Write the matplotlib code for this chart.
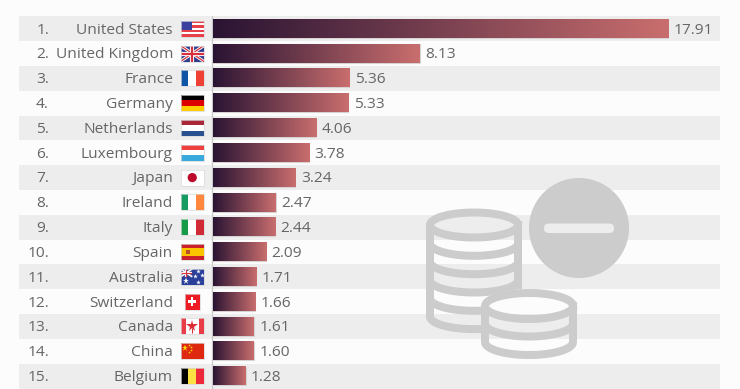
import numpy as np
import matplotlib
matplotlib.use("Agg")
import matplotlib.pyplot as plt
from matplotlib.colors import LinearSegmentedColormap
from matplotlib.patches import Rectangle, Circle, FancyBboxPatch
from matplotlib.path import Path

countries = ["United States", "United Kingdom", "France", "Germany", "Netherlands",
             "Luxembourg", "Japan", "Ireland", "Italy", "Spain", "Australia",
             "Switzerland", "Canada", "China", "Belgium"]
values = [17.91, 8.13, 5.36, 5.33, 4.06, 3.78, 3.24, 2.47, 2.44, 2.09, 1.71, 1.66, 1.61, 1.60, 1.28]
value_labels = ["17.91", "8.13", "5.36", "5.33", "4.06", "3.78", "3.24", "2.47", "2.44",
                "2.09", "1.71", "1.66", "1.61", "1.60", "1.28"]
ranks = [f"{i}." for i in range(1, 16)]

W, H = 740, 389
BG = "#fcfcfc"
STRIPE = "#ededed"
TEXT = "#666666"
ICON = "#cccccc"
PX_PER_UNIT = 25.42
ROW_TOP, ROW_BOTTOM = 16.3, 388.5
LEFT, RIGHT, ZERO = 19, 720, 213
FS = 11.15
TEXT_DY = 0.055

plt.rcParams["font.family"] = ["Open Sans", "DejaVu Sans"]
fig = plt.figure(figsize=(W / 100, H / 100), dpi=100, facecolor=BG)

ax = fig.add_axes([LEFT / W, 1 - ROW_BOTTOM / H, (RIGHT - LEFT) / W, (ROW_BOTTOM - ROW_TOP) / H])
ax.set_facecolor("none")
ax.axis("off")
xmin = (LEFT - ZERO) / PX_PER_UNIT
xmax = (RIGHT - ZERO) / PX_PER_UNIT

cmap = LinearSegmentedColormap.from_list("bar", ["#2a1433", "#c96e6e"])
grad = np.linspace(0, 1, 256).reshape(1, -1)
rows = np.arange(len(values))

for r in rows[::2]:
    ax.axhspan(r - 0.5, r + 0.5, color=STRIPE, lw=0, zorder=0)
ax.axvline(-0.03, color="#c9c9c9", lw=0.9, zorder=1)

BAR_H = 0.735
for r, v, vl, c, rk in zip(rows, values, value_labels, countries, ranks):
    ax.add_patch(Rectangle((0, r - BAR_H / 2), v, BAR_H, fc="none", ec="#d9d2d2", lw=0.8, zorder=1.5))
    ax.imshow(grad, cmap=cmap, aspect="auto", interpolation="bilinear",
              extent=(0, v, r + BAR_H / 2, r - BAR_H / 2), zorder=2)
    y = r + TEXT_DY
    ax.text(v + 5.5 / PX_PER_UNIT, y, vl, color=TEXT, fontsize=FS, va="center", ha="left", zorder=4)
    ax.text((173 - ZERO) / PX_PER_UNIT, y, c, color=TEXT, fontsize=FS, va="center", ha="right", zorder=4)
    ax.text((49 - ZERO) / PX_PER_UNIT, y, rk, color=TEXT, fontsize=FS, va="center", ha="right", zorder=4)
ax.set_xlim(xmin, xmax)
ax.set_ylim(len(values) - 0.5, -0.5)

# overlay in pixel coordinates: flags and pictogram
ov = fig.add_axes([0, 0, 1, 1], facecolor="none")
ov.set_xlim(0, W)
ov.set_ylim(H, 0)
ov.axis("off")

row_h = (ROW_BOTTOM - ROW_TOP) / len(values)


def flag(i, draw, x0=180.5, x1=204, hh=8):
    cy = ROW_TOP + (i + 0.5) * row_h
    y0 = cy - hh
    w, h = x1 - x0, 2 * hh
    clip = Rectangle((x0, y0), w, h, transform=ov.transData)

    def R(a, b, c, d, col):
        p = Rectangle((x0 + a * w, y0 + b * h), (c - a) * w, (d - b) * h, fc=col, ec="none", zorder=5)
        ov.add_patch(p)
        p.set_clip_path(clip)

    def L(xs, ys, col, lw):
        ln, = ov.plot([x0 + a * w for a in xs], [y0 + b * h for b in ys], color=col, lw=lw,
                      solid_capstyle="butt", zorder=6)
        ln.set_clip_path(clip)

    def S(a, b, col, ms):
        ov.plot([x0 + a * w], [y0 + b * h], marker="*", color=col, ms=ms, mew=0, zorder=7)

    draw(R, L, S, x0, y0, w, h)
    ov.add_patch(Rectangle((x0, y0), w, h, fc="none", ec="#d8d8d8", lw=0.5, zorder=8))


def us(R, L, S, *_):
    for k in range(7):
        R(0, k / 7, 1, (k + 1) / 7, "#e8404a" if k % 2 == 0 else "#ffffff")
    R(0, 0, 0.47, 4 / 7, "#3b3f9e")


def uk(R, L, S, *_):
    R(0, 0, 1, 1, "#2f3d8f")
    L([0, 1], [0, 1], "#ffffff", 2.2)
    L([0, 1], [1, 0], "#ffffff", 2.2)
    L([0, 1], [0, 1], "#d8303c", 0.9)
    L([0, 1], [1, 0], "#d8303c", 0.9)
    L([0.5, 0.5], [0, 1], "#ffffff", 3)
    L([0, 1], [0.5, 0.5], "#ffffff", 3)
    L([0.5, 0.5], [0, 1], "#d8303c", 1.6)
    L([0, 1], [0.5, 0.5], "#d8303c", 1.6)


def vert(c1, c2, c3):
    def f(R, L, S, *_):
        R(0, 0, 1 / 3, 1, c1)
        R(1 / 3, 0, 2 / 3, 1, c2)
        R(2 / 3, 0, 1, 1, c3)
    return f


def horiz(c1, c2, c3):
    def f(R, L, S, *_):
        R(0, 0, 1, 1 / 3, c1)
        R(0, 1 / 3, 1, 2 / 3, c2)
        R(0, 2 / 3, 1, 1, c3)
    return f


def japan(R, L, S, x0, y0, w, h):
    R(0, 0, 1, 1, "#ffffff")
    ov.add_patch(Circle((x0 + w / 2, y0 + h / 2), 4.6, fc="#bc0a2c", ec="none", zorder=6))


def spain(R, L, S, *_):
    R(0, 0, 1, 1, "#c9202c")
    R(0, 0.25, 1, 0.75, "#fac400")
    R(0.25, 0.38, 0.42, 0.62, "#b5522a")


def australia(R, L, S, *_):
    R(0, 0, 1, 1, "#2a3f9c")
    R(0, 0, 0.5, 0.5, "#3a3f8f")
    L([0, 0.5], [0, 0.5], "#ffffff", 1.2)
    L([0, 0.5], [0.5, 0], "#ffffff", 1.2)
    L([0.25, 0.25], [0, 0.5], "#ffffff", 1.6)
    L([0, 0.5], [0.25, 0.25], "#ffffff", 1.6)
    L([0.25, 0.25], [0, 0.5], "#d8303c", 0.8)
    L([0, 0.5], [0.25, 0.25], "#d8303c", 0.8)
    S(0.25, 0.75, "#ffffff", 5)
    for a, b in [(0.75, 0.15), (0.62, 0.42), (0.9, 0.38), (0.75, 0.8)]:
        S(a, b, "#ffffff", 3.5)


def swiss(R, L, S, *_):
    R(0, 0, 1, 1, "#ee1c25")
    R(0.42, 0.2, 0.58, 0.8, "#ffffff")
    R(0.25, 0.4, 0.75, 0.6, "#ffffff")


def canada(R, L, S, x0, y0, w, h):
    R(0, 0, 1, 1, "#ffffff")
    R(0, 0, 0.22, 1, "#ea3c46")
    R(0.78, 0, 1, 1, "#ea3c46")
    S(0.5, 0.47, "#e02a36", 8.5)
    L([0.5, 0.5], [0.6, 0.88], "#e02a36", 0.8)


def china(R, L, S, *_):
    R(0, 0, 1, 1, "#de2910")
    S(0.2, 0.3, "#ffde00", 5)
    for a, b in [(0.38, 0.12), (0.45, 0.25), (0.45, 0.42), (0.38, 0.55)]:
        S(a, b, "#ffde00", 2)


flags = [us, uk, vert("#0f55a6", "#ffffff", "#ef4135"), horiz("#000000", "#dd0000", "#ffce00"),
         horiz("#a8283a", "#ffffff", "#29508f"), horiz("#ef4040", "#ffffff", "#37a9dc"), japan,
         vert("#169b62", "#ffffff", "#ff883e"), vert("#169b47", "#ffffff", "#ce2b37"), spain,
         australia, swiss, canada, china, vert("#000000", "#fae042", "#ed2939")]
for i, fl in enumerate(flags):
    if fl is swiss:
        flag(i, fl, x0=184.5, x1=200)
    else:
        flag(i, fl)

# pictogram
ov.add_patch(Circle((579, 228), 50, fc=ICON, ec="none", zorder=3))
ov.add_patch(FancyBboxPatch((544, 223.5), 70, 9.5, boxstyle="round,pad=0,rounding_size=4.7",
                            fc="#ededed", ec="none", zorder=4))

LW = 8 * 0.72
t_full = np.linspace(0, 2 * np.pi, 200)
t_low = np.linspace(0, np.pi, 100)  # y axis inverted, so sin>0 runs along the lower arc


def stack(cx, rx, ry, centers, clip=None):
    artists = []
    artists += ov.plot(cx + rx * np.cos(t_full), centers[0] + ry * np.sin(t_full),
                       color=ICON, lw=LW, zorder=3)
    for c in centers[1:]:
        artists += ov.plot(cx + rx * np.cos(t_low), c + ry * np.sin(t_low), color=ICON, lw=LW,
                           solid_capstyle="butt", zorder=3)
    for s in (-1, 1):
        artists += ov.plot([cx + s * rx] * 2, [centers[0], centers[-1]], color=ICON, lw=LW,
                           solid_capstyle="butt", zorder=3)
    if clip is not None:
        for a in artists:
            a.set_clip_path(clip, ov.transData)


# small stack silhouette is cut out of the large stack
sc, srx, sry = 529, 48, 17
tt = np.linspace(np.pi, 2 * np.pi, 60)
bb = np.linspace(0, np.pi, 60)
sil = np.vstack([np.c_[sc + srx * np.cos(tt), 306 + sry * np.sin(tt)],
                 np.c_[sc + srx * np.cos(bb), 342 + sry * np.sin(bb)]])
outer = np.array([(0, 0), (0, H), (W, H), (W, 0)], float)


def area(p):
    x, y = p[:, 0], p[:, 1]
    return 0.5 * np.sum(x * np.roll(y, -1) - y * np.roll(x, -1))


if np.sign(area(sil)) == np.sign(area(outer)):
    sil = sil[::-1]
verts = np.vstack([outer, outer[:1], sil, sil[:1]])
codes = [Path.MOVETO] + [Path.LINETO] * 3 + [Path.CLOSEPOLY] + [Path.MOVETO] + [Path.LINETO] * (len(sil) - 1) + [Path.CLOSEPOLY]
cut = Path(verts, codes)

stack(474, 44, 12.5, [225, 243.3, 261.7, 280, 298.3, 316.6], clip=cut)
stack(529, 44, 13, [306, 323.5, 342])

fig.savefig("out.png", dpi=100, facecolor=BG)
